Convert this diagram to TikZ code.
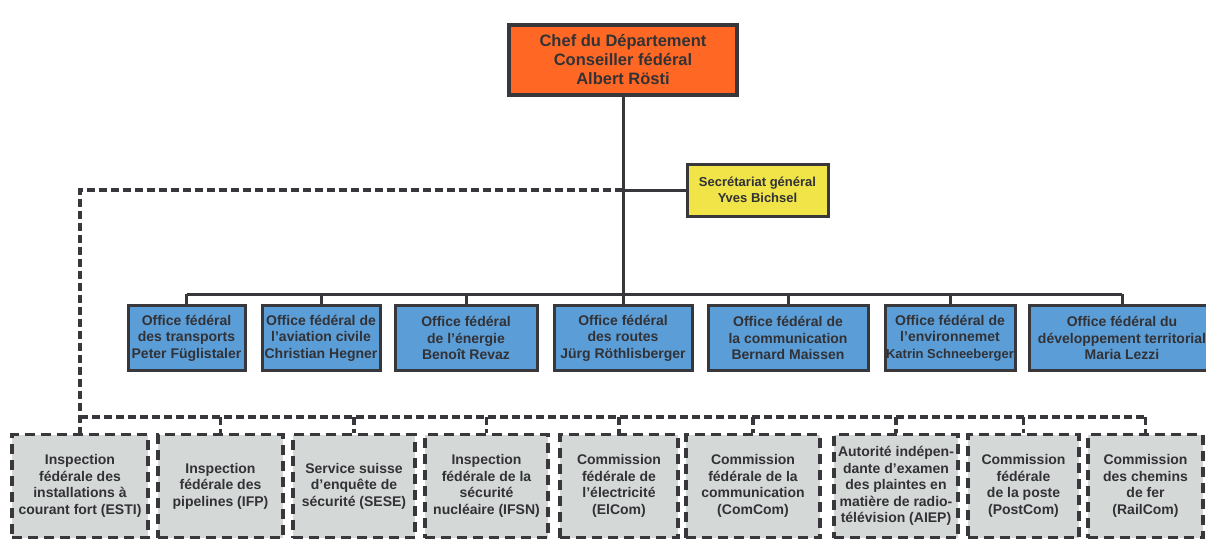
\documentclass[tikz,border=0pt]{standalone}
\usepackage{fontspec}
\setmainfont{Liberation Sans}
\usepackage{tikz}
\usetikzlibrary{positioning}
\definecolor{Corange}{RGB}{255,104,36}
\definecolor{Cbleu}{RGB}{91,157,214}
\definecolor{Cjaune}{RGB}{240,228,72}
\definecolor{Cgris}{RGB}{212,216,214}
\definecolor{Ctrait}{RGB}{56,56,60}
\definecolor{Ctexte}{RGB}{50,50,54}

\tikzset{
  boite/.style={draw=Ctrait, line width=3pt, align=center, text=Ctexte,
        inner sep=1pt, font=\fontsize{14}{16.5}\selectfont\bfseries},
  chefbox/.style={boite, fill=Corange, line width=3.5pt,
        font=\fontsize{16.5}{19}\selectfont\bfseries},
  secbox/.style={boite, fill=Cjaune, font=\fontsize{13}{16}\selectfont\bfseries},
  officebox/.style={boite, fill=Cbleu, minimum height=65pt},
  commbox/.style={boite, fill=Cgris, line width=3.4pt, dash pattern=on 10pt off 6pt,
        minimum height=103pt},
  trait/.style={draw=Ctrait, line width=3pt},
  pointille/.style={trait, line width=3.2pt, dash pattern=on 8pt off 4pt}
}

\begin{document}
\begin{tikzpicture}[x=1pt, y=-1pt]
  \useasboundingbox (0,0) rectangle (1206,551);

  % direction
  \node[chefbox, minimum width=228pt, minimum height=70pt] (chef) at (623,60)
    {Chef du Département\\Conseiller fédéral\\Albert Rösti};
  \node[secbox, minimum width=141pt, minimum height=52pt] (sec) at (757.5,190)
    {Secrétariat général\\Yves Bichsel};

  % offices
  \node[officebox, minimum width=117pt] (ofT) at (186.5,338) {Office fédéral\\des transports\\Peter Füglistaler};
  \node[officebox, minimum width=118pt] (ofAC) at (321,338) {Office fédéral de\\l’aviation civile\\Christian Hegner};
  \node[officebox, minimum width=142pt] (ofEN) at (466,338) {Office fédéral\\de l’énergie\\Benoît Revaz};
  \node[officebox, minimum width=138pt] (ofROU) at (623,338) {Office fédéral\\des routes\\Jürg Röthlisberger};
  \node[officebox, minimum width=160pt] (ofCOM) at (788,338) {Office fédéral de\\la communication\\Bernard Maissen};
  \node[officebox, minimum width=130pt] (ofEV) at (950,338) {Office fédéral de\\l’environnemet\\{\fontsize{13}{16.5}\selectfont Katrin Schneeberger}};
  \node[officebox, minimum width=186pt] (ofARE) at (1122,338) {Office fédéral du\\développement territorial\\Maria Lezzi};

  % commissions et inspections
  \node[commbox, minimum width=136pt] (esti) at (80,486) {Inspection\\fédérale des\\installations à\\courant fort (ESTI)};
  \node[commbox, minimum width=125pt] (ifp) at (220.5,486) {Inspection\\fédérale des\\pipelines (IFP)};
  \node[commbox, minimum width=122pt] (sese) at (354,486) {Service suisse\\d’enquête de\\sécurité (SESE)};
  \node[commbox, minimum width=123pt] (ifsn) at (486.5,486) {Inspection\\fédérale de la\\sécurité\\nucléaire (IFSN)};
  \node[commbox, minimum width=118pt] (elcom) at (619,486) {Commission\\fédérale de\\l’électricité\\(ElCom)};
  \node[commbox, minimum width=134pt] (comcom) at (753,486) {Commission\\fédérale de la\\communication\\(ComCom)};
  \node[commbox, minimum width=124pt] (aiep) at (896,486) {Autorité indépen-\\dante d’examen\\des plaintes en\\matière de radio-\\télévision (AIEP)};
  \node[commbox, minimum width=111pt] (postcom) at (1023.5,486) {Commission\\fédérale\\de la poste\\(PostCom)};
  \node[commbox, minimum width=115pt] (railcom) at (1145.5,486) {Commission\\des chemins\\de fer\\(RailCom)};

  \coordinate (busO) at (0,294);
  \coordinate (busC) at (0,417);

  % liaisons
  \draw[trait] (chef.south) -- (ofROU.north);
  \draw[trait] (chef.south |- sec.west) -- (sec.west);
  \draw[trait] (ofT.north |- busO) -- (ofARE.north |- busO);
  \foreach \n in {ofT,ofAC,ofEN,ofCOM,ofEV,ofARE}
    \draw[trait] (\n.north |- busO) -- (\n.north);

  \draw[pointille] (chef.south |- sec.west) -- (esti.north |- sec.west) -- (esti.north);
  \draw[pointille] (esti.north |- busC) -- (railcom.north |- busC);
  \foreach \n in {ifp,sese,ifsn,elcom,comcom,aiep,postcom,railcom}
    \draw[pointille] (\n.north |- busC) -- (\n.north);
\end{tikzpicture}
\end{document}
